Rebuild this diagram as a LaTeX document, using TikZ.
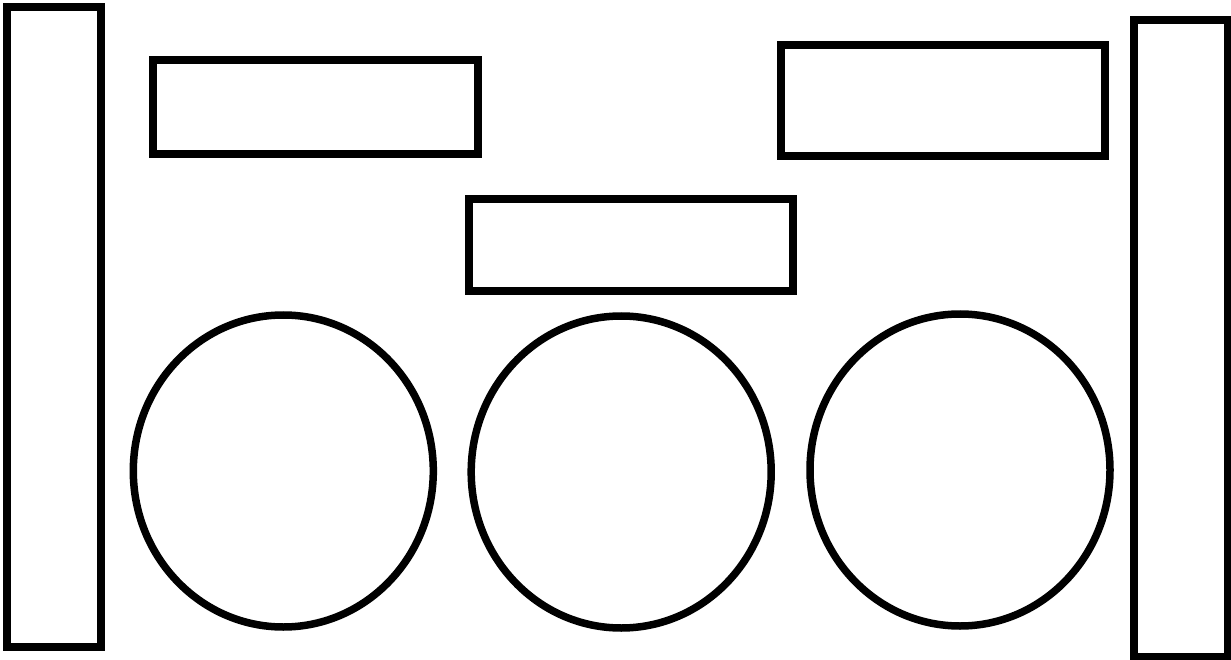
\documentclass[tikz,border=0pt]{standalone}
\usetikzlibrary{shapes.geometric}
\begin{document}
\begin{tikzpicture}[x=1pt,y=-1pt,
  box/.style={draw=black,line width=8pt,rectangle,inner sep=0pt,outer sep=0pt,fill=white},
  disc/.style={draw=black,line width=7.5pt,ellipse,inner sep=0pt,outer sep=0pt,minimum width=300pt,minimum height=312pt}]
\useasboundingbox[fill=white] (0,0) rectangle (1231,660);
% tall side bars
\node[box,minimum width=93.5pt,minimum height=639pt] (leftbar) at (54.2,327) {};
\node[box,minimum width=94pt,minimum height=637pt] (rightbar) at (1181,338.5) {};
% top boxes
\node[box,minimum width=324.4pt,minimum height=93.7pt] (topleft) at (315.5,106.9) {};
\node[box,minimum width=324pt,minimum height=111pt] (topright) at (943.3,100.5) {};
\node[box,minimum width=324.5pt,minimum height=92.5pt] (middle) at (631.2,244.8) {};
% circles
\node[disc] (c1) at (283.3,471) {};
\node[disc] (c2) at (621.2,472) {};
\node[disc] (c3) at (960,470) {};
\end{tikzpicture}
\end{document}
